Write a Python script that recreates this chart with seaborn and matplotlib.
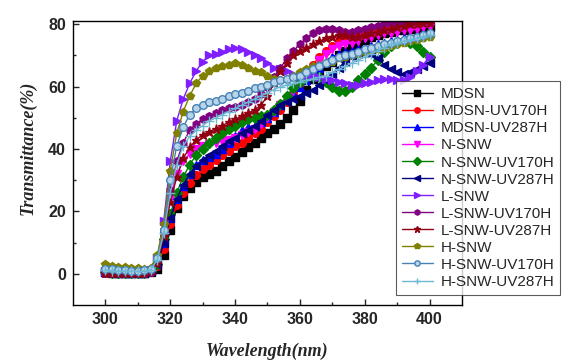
import numpy as np
import pandas as pd
import matplotlib
matplotlib.use("Agg")
import matplotlib.pyplot as plt
import seaborn as sns

# wavelength grid (nm), 2 nm steps
wavelength = np.arange(300, 401, 2)

# transmittance (%)
mdsn = [0.5, 0.4, 0.3, 0.3, 0.2, 0.2, 0.3, 0.6,
        1.5, 6, 14, 21, 25, 27.5, 29.5, 31, 32, 33,
        34.5, 36, 37.5, 39, 40.5, 42, 43.5, 45, 46.5, 48,
        50, 52.5, 55.5, 59, 62.5, 64.5, 66.5, 68, 70, 71.5,
        73, 74, 75, 76, 76.5, 77, 77.5, 78, 78, 78.5,
        78.5, 79, 79]
mdsn_uv170 = [0.3, 0.3, 0.2, 0.2, 0.2, 0.2, 0.3, 0.7,
              2.5, 8, 16, 22, 26, 29, 31.5, 33.5, 35, 36.5,
              38, 39.5, 41, 42, 43.5, 45, 46.5, 48.5, 50.5, 52.5,
              55, 58, 61, 64, 67, 69.5, 71.5, 73, 74.5, 75.5,
              76.5, 77.5, 78, 78.5, 79, 79.5, 79.5, 80, 80, 80.5,
              80.5, 81, 81]
mdsn_uv287 = [0.6, 0.5, 0.4, 0.4, 0.3, 0.3, 0.4, 0.8,
              3, 10, 18, 24, 28, 32, 35, 36.5, 37.5, 38.5,
              40, 42, 44, 46, 47, 47.5, 48.5, 50, 52, 54,
              56, 58, 60, 62, 64, 66, 68, 69.5, 70.5, 71,
              71.5, 72, 72.5, 73, 73.5, 74, 74.5, 75, 75.5, 76,
              76.5, 77, 77]
n_snw = [0.4, 0.3, 0.3, 0.2, 0.2, 0.2, 0.3, 0.8,
         3.5, 12, 24, 32, 36, 38.5, 40, 41, 41.5, 42,
         42.5, 43, 43.5, 44.5, 45.5, 46.5, 48, 50, 52, 54,
         56, 58.5, 61, 63.5, 66, 68.5, 70.5, 72, 73, 73.5,
         74, 74.5, 75.5, 76, 76.5, 77, 77, 77.5, 78, 78,
         78.5, 79, 79]
n_snw_uv170 = [0.5, 0.4, 0.4, 0.3, 0.3, 0.3, 0.4, 0.9,
               3, 11, 19, 26, 31, 35, 38, 40, 42, 43.5,
               45, 46.5, 47.5, 48.5, 49.5, 50, 50.5, 51, 52.5, 54.5,
               57, 59.5, 61.5, 63, 63.5, 63, 61.5, 60, 58.5, 58.5,
               60, 62, 64, 66, 68.5, 71, 73, 74, 74.5, 74,
               73, 71, 69.5]
n_snw_uv287 = [0.4, 0.4, 0.3, 0.3, 0.2, 0.2, 0.3, 0.8,
               3, 10, 18, 24, 28.5, 32, 34.5, 36.5, 38, 39.5,
               41, 42.5, 43.5, 45, 46, 47.5, 49, 51, 52.5, 54,
               55, 56, 57, 58, 59, 60.5, 62, 64, 66, 68,
               69.5, 70.5, 71, 70.5, 69, 67, 65.5, 64.5, 64, 64.5,
               65.5, 66.5, 67.5]
l_snw = [0.8, 0.7, 0.6, 0.5, 0.5, 0.5, 0.6, 1.2,
         5, 17, 36, 49, 56, 61, 65, 68, 70, 70.5,
         71, 72, 72.5, 72, 71, 70, 69, 67.5, 66, 65.5,
         65, 64, 63.5, 63.5, 63.5, 63, 62.5, 62, 61.5, 61,
         60.5, 60.5, 61, 61.5, 62, 62.5, 62.5, 62, 62, 63,
         65, 67, 69.5]
l_snw_uv170 = [0.2, 0.2, 0.1, 0.1, 0.1, 0.1, 0.2, 0.7,
               4, 14, 27, 36, 42, 46, 48, 49.5, 50.5, 51.5,
               52.5, 53, 53.5, 54, 55, 56, 57.5, 60, 63, 66,
               69, 71.5, 73.5, 75.5, 77, 78, 78.5, 78.5, 78, 77.5,
               77.5, 78, 78.5, 79, 79.5, 80, 80.5, 80.5, 80.5, 80.5,
               81, 81, 81]
l_snw_uv287 = [0.3, 0.3, 0.2, 0.2, 0.2, 0.2, 0.3, 0.8,
               3.5, 12, 23, 31, 37, 40.5, 43, 44.5, 45.5, 46.5,
               47.5, 48.5, 49.5, 50.5, 51.5, 52.5, 54, 57, 61, 65,
               67.5, 70, 71.5, 72.5, 73.5, 74.5, 75.5, 76, 76.5, 76.5,
               76, 76, 76.5, 77, 77.5, 78, 78.5, 79, 79.5, 80,
               80, 80.5, 80.5]
h_snw = [3, 2.6, 2.3, 2.1, 1.9, 1.7, 1.6, 2,
         6, 16, 33, 45, 52, 57, 61, 63.5, 65, 66,
         66.5, 67, 67.5, 67, 66, 65, 64.5, 63.5, 62.5, 62,
         62.5, 63.5, 64.5, 65.5, 66.5, 67, 67.5, 68, 69, 69.5,
         70, 70.5, 71, 71.5, 72, 72.5, 73, 73.5, 74, 74.5,
         75, 75.5, 76]
h_snw_uv170 = [1.6, 1.4, 1.2, 1.1, 1, 1, 1.1, 1.5,
               5, 14, 30, 41, 47, 51, 53, 54, 55, 55.5,
               56, 57, 57.5, 58, 58.5, 59.5, 60, 60.5, 61.5, 62,
               62.5, 63, 63.5, 64.5, 65.5, 66.5, 67.5, 68.5, 69.5, 70,
               70.5, 71, 72, 72.5, 73, 73.5, 74, 74.5, 75, 75.5,
               76, 76.5, 77]
h_snw_uv287 = [1.2, 1, 0.9, 0.8, 0.8, 0.8, 0.9, 1.3,
               4.5, 13, 26, 35, 41, 44, 46, 47.5, 49, 50,
               51, 52, 53, 54, 55, 56, 57, 58, 59, 60,
               60.5, 61, 61.5, 62, 62.5, 63, 63.5, 64.5, 65.5, 66.5,
               67.5, 68.5, 69.5, 70.5, 71.5, 72.5, 73.5, 74, 74.5, 75,
               75.5, 76, 76.5]

names = ['MDSN', 'MDSN-UV170H', 'MDSN-UV287H', 'N-SNW', 'N-SNW-UV170H',
         'N-SNW-UV287H', 'L-SNW', 'L-SNW-UV170H', 'L-SNW-UV287H',
         'H-SNW', 'H-SNW-UV170H', 'H-SNW-UV287H']
series = [mdsn, mdsn_uv170, mdsn_uv287, n_snw, n_snw_uv170, n_snw_uv287,
          l_snw, l_snw_uv170, l_snw_uv287, h_snw, h_snw_uv170, h_snw_uv287]
colors = ['#000000', '#ff0000', '#0000ff', '#ff00ff', '#008000', '#000080',
          '#7f1fff', '#800080', '#900010', '#808000', '#4682b4', '#6fb8d4']
markers = ['s', 'o', '^', 'v', 'D', '<', '>', 'h', '*', 'p', 'o', '+']

df = pd.DataFrame({
    'Wavelength': np.tile(wavelength, len(names)),
    'Transmittance': np.concatenate(series),
    'Sample': np.repeat(names, len(wavelength)),
})

sns.set_style('ticks')
plt.rcParams['font.family'] = ['Liberation Sans', 'DejaVu Sans']

fig = plt.figure(figsize=(5.79, 3.64), dpi=100)
ax = fig.add_axes([0.1261, 0.1621, 0.6718, 0.7802])

for name, c, m in zip(names, colors, markers):
    d = df[df['Sample'] == name]
    mfc = '#b8d4ea' if name == 'H-SNW-UV170H' else c
    ms = 6.5 if m in ('*', '+') else 5.5
    sns.lineplot(data=d, x='Wavelength', y='Transmittance', ax=ax,
                 color=c, marker=m, markersize=ms, markerfacecolor=mfc,
                 markeredgecolor=c, markeredgewidth=1.0, linewidth=1.0,
                 label=name)

ax.set_xlim(290, 410)
ax.set_ylim(-10, 81)
ax.set_xticks([300, 320, 340, 360, 380, 400])
ax.set_xticks([310, 330, 350, 370, 390], minor=True)
ax.set_yticks([0, 20, 40, 60, 80])
ax.set_yticks([10, 30, 50, 70], minor=True)
ax.tick_params(which='major', direction='in', length=4, width=1, pad=5,
               labelsize=11.5, top=False, right=False)
ax.tick_params(which='minor', direction='in', length=2.5, width=1,
               top=False, right=False)
for lab in ax.get_xticklabels() + ax.get_yticklabels():
    lab.set_fontweight('bold')
for s in ax.spines.values():
    s.set_color('black')
    s.set_linewidth(1)

ax.set_xlabel('Wavelength(nm)', family='Liberation Serif', style='italic',
              weight='bold', fontsize=13)
ax.set_ylabel('Transmittance(%)', family='Liberation Serif', style='italic',
              weight='bold', fontsize=13)
ax.xaxis.set_label_coords(0.5, -0.134)
ax.yaxis.set_label_coords(-0.093, 0.553)

leg = ax.legend(loc='upper left', bbox_to_anchor=(0.684, 0.777),
                bbox_transform=fig.transFigure, borderaxespad=0,
                fontsize=11, frameon=True, fancybox=False,
                edgecolor='#333333', handlelength=2.0, handletextpad=0.5,
                labelspacing=0.2, borderpad=0.4, markerscale=0.7)
leg.get_frame().set_linewidth(0.8)

plt.savefig('out.png', dpi=100)
